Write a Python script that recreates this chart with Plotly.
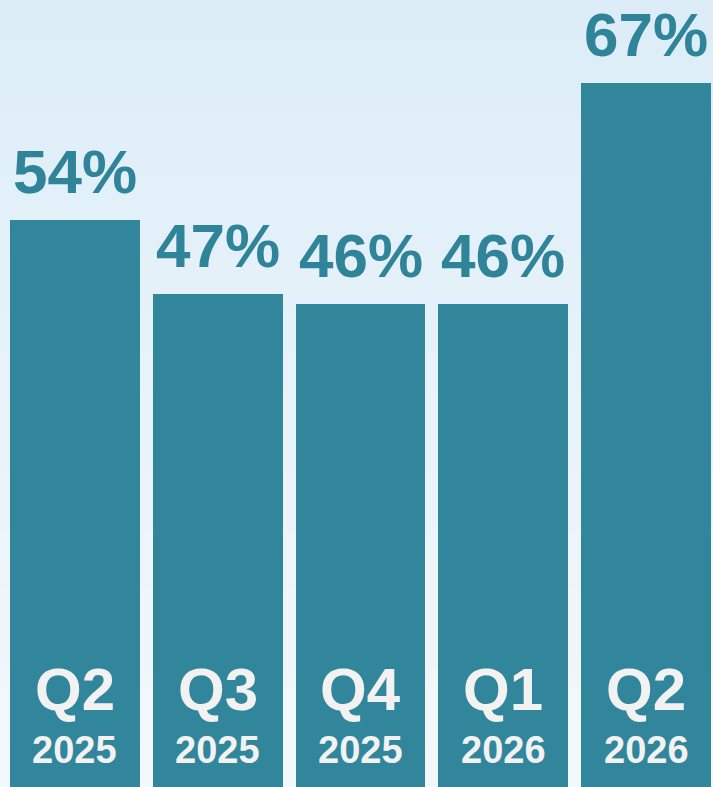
import plotly.graph_objects as go

quarters = ["Q2", "Q3", "Q4", "Q1", "Q2"]
years = ["2025", "2025", "2025", "2026", "2026"]
values = [54, 47, 46, 46, 67]
labels = ["54%", "47%", "46%", "46%", "67%"]

idx = list(range(len(values)))

BAR = "#31869c"
LBL = "#2f8499"
WHITE = "#f2f2f2"
FONT = "Liberation Sans, Arial, sans-serif"
H = 787

fig = go.Figure()
fig.add_trace(go.Bar(x=idx, y=values, marker=dict(color=BAR, line=dict(width=0)),
                     width=0.91, hoverinfo="skip"))

# background gradient
shapes = []
n = 40
top = (220, 237, 248)
bot = (243, 248, 252)
for i in range(n):
    t = i / (n - 1)
    c = tuple(int(round(top[k] + (bot[k] - top[k]) * t)) for k in range(3))
    shapes.append(dict(type="rect", xref="paper", yref="paper", x0=0, x1=1,
                       y0=1 - (i + 1) / n, y1=1 - i / n + 0.001,
                       fillcolor=f"rgb{c}", line=dict(width=0), layer="below"))

ann = []
for i, (v, lab, q, yr) in enumerate(zip(values, labels, quarters, years)):
    ann.append(dict(x=i, y=v, text=f"<b>{lab}</b>", showarrow=False, yanchor="bottom",
                    yshift=12, font=dict(family=FONT, size=62, color=LBL)))
    ann.append(dict(x=i, y=1 - 689 / H, yref="paper", text=f"<b>{q}</b>",
                    showarrow=False, yanchor="middle",
                    font=dict(family=FONT, size=60, color=WHITE)))
    ann.append(dict(x=i, y=1 - 750 / H, yref="paper", text=f"<b>{yr}</b>",
                    showarrow=False, yanchor="middle",
                    font=dict(family=FONT, size=38, color=WHITE)))

fig.update_layout(
    width=713, height=787,
    margin=dict(l=0, r=0, t=0, b=0),
    paper_bgcolor="#e6f1f9", plot_bgcolor="rgba(0,0,0,0)",
    showlegend=False,
    shapes=shapes,
    annotations=ann,
    xaxis=dict(range=[-0.525, 4.469], visible=False, fixedrange=True),
    yaxis=dict(range=[0.19, 74.86], visible=False, fixedrange=True),
    bargap=0,
)
fig.write_html("out.html", config={"displayModeBar": False},
               post_script="document.body.style.margin='0';document.body.style.overflow='hidden';")
